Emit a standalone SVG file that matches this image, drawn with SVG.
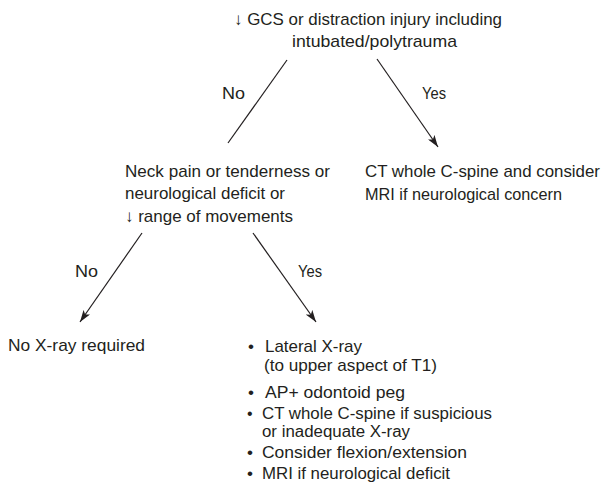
<svg xmlns="http://www.w3.org/2000/svg" width="603" height="486" viewBox="0 0 603 486">
<style>
text{font-family:"Liberation Sans",Arial,sans-serif;font-size:17px;fill:#231f20}
.tight{font-size:16px}
.edge{stroke:#231f20;stroke-width:1.2;fill:none}
</style>
<defs>
<marker id="ah" viewBox="0 0 12 8" refX="12" refY="4" markerWidth="12" markerHeight="8" markerUnits="userSpaceOnUse" orient="auto">
<path d="M0,0 L12,4 L0,8 L3,4 Z" fill="#231f20"/>
</marker>
</defs>
<rect width="603" height="486" fill="#fff"/>
<g id="connectors">
<line class="edge" x1="287" y1="60" x2="228" y2="143"/>
<line class="edge" x1="377" y1="59" x2="438" y2="147" marker-end="url(#ah)"/>
<line class="edge" x1="142" y1="233" x2="80" y2="322" marker-end="url(#ah)"/>
<line class="edge" x1="253" y1="233" x2="316" y2="322" marker-end="url(#ah)"/>
<text x="222" y="99" textLength="23" lengthAdjust="spacingAndGlyphs">No</text>
<text x="422" y="99" textLength="24" lengthAdjust="spacingAndGlyphs">Yes</text>
<text x="75" y="277" textLength="23" lengthAdjust="spacingAndGlyphs">No</text>
<text x="298" y="277" textLength="24" lengthAdjust="spacingAndGlyphs">Yes</text>
</g>
<g id="node-start">
<text x="234" y="25" textLength="268" lengthAdjust="spacingAndGlyphs">↓ GCS or distraction injury including</text>
<text x="292" y="47" textLength="165" lengthAdjust="spacingAndGlyphs">intubated/polytrauma</text>
</g>
<g id="node-ct">
<text x="365" y="177" textLength="235" lengthAdjust="spacingAndGlyphs">CT whole C-spine and consider</text>
<text x="365" y="200" textLength="197" lengthAdjust="spacingAndGlyphs">MRI if neurological concern</text>
</g>
<g id="node-neck">
<text x="125" y="177" textLength="205" lengthAdjust="spacingAndGlyphs">Neck pain or tenderness or</text>
<text x="125" y="199" textLength="160" lengthAdjust="spacingAndGlyphs">neurological deficit or</text>
<text x="125" y="222" textLength="168" lengthAdjust="spacingAndGlyphs">↓ range of movements</text>
</g>
<g id="node-noxray">
<text x="8" y="351" textLength="137" lengthAdjust="spacingAndGlyphs">No X-ray required</text>
</g>
<g id="node-xray">
<text x="248" y="352">•</text>
<text x="265" y="352" textLength="97" lengthAdjust="spacingAndGlyphs">Lateral X-ray</text>
<text x="264" y="371" textLength="173" lengthAdjust="spacingAndGlyphs">(to upper aspect of T1)</text>
<text x="248" y="398">•</text>
<text x="265" y="398" textLength="140" lengthAdjust="spacingAndGlyphs">AP+ odontoid peg</text>
<text class="tight" x="247" y="419">•</text>
<text class="tight" x="262" y="419" textLength="230" lengthAdjust="spacingAndGlyphs">CT whole C-spine if suspicious</text>
<text class="tight" x="262" y="437" textLength="148" lengthAdjust="spacingAndGlyphs">or inadequate X-ray</text>
<text x="247" y="458">•</text>
<text x="262" y="458" textLength="205" lengthAdjust="spacingAndGlyphs">Consider flexion/extension</text>
<text x="247" y="479">•</text>
<text x="262" y="479" textLength="188" lengthAdjust="spacingAndGlyphs">MRI if neurological deficit</text>
</g>
</svg>
